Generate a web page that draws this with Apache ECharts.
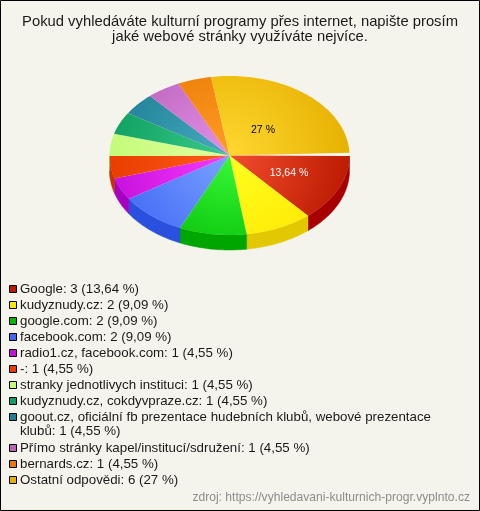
<!DOCTYPE html>
<html><head><meta charset="utf-8">
<style>html,body{margin:0;padding:0;background:#f5f4ec}#c{width:480px;height:511px}</style>
<script src="https://cdn.jsdelivr.net/npm/echarts@6/dist/echarts.min.js"></script>
</head><body><div id="c"></div>
<script>
const titleLines = ['Pokud vyhledáváte kulturní programy přes internet, napište prosím', 'jaké webové stránky využíváte nejvíce.'];
const source = 'zdroj: https://vyhledavani-kulturnich-progr.vyplnto.cz';
const categories = ['Google','kudyznudy.cz','google.com','facebook.com','radio1.cz, facebook.com','-','stranky jednotlivych instituci','kudyznudy.cz, cokdyvpraze.cz','goout.cz, oficiální fb prezentace hudebních klubů, webové prezentace\nklubů','Přímo stránky kapel/institucí/sdružení','bernards.cz','Ostatní odpovědi'];
const counts = [3,2,2,2,1,1,1,1,1,1,1,6];
const percents = [13.64,9.09,9.09,9.09,4.55,4.55,4.55,4.55,4.55,4.55,4.55,27];
const percentLabels = ['13,64','9,09','9,09','9,09','4,55','4,55','4,55','4,55','4,55','4,55','4,55','27'];
const rimColors = ['#bb1a00','#ffe600','#00b800','#3f68f5','#c60fdb','#e83c00','#c2fb78','#0f9f62','#1f7f96','#bb62bb','#e87800','#e6b000'];
const hubColors = ['#f24c2e','#ffff20','#38f838','#7aa2ff','#f83cff','#ff5c18','#e2ffa0','#38cc88','#48acc0','#e490e8','#ff9c28','#ffd830'];
const sideColors = ['#a80000','#e2c800','#00a600','#2a50e0','#a800c0','#c83000','#a0d860','#008850','#106878','#985098','#c06000','#c09000'];

const CX = 229.5, CY = 155.5, RX = 120, RY = 79.5, DEPTH = 15, HUB_R = 125, DEG_PER_PCT = 3.585, START_DEG = 0.3;
const pt = (deg, dy) => { const a = deg*Math.PI/180; return [CX+RX*Math.cos(a), CY+(dy||0)+RY*Math.sin(a)]; };
const arc = (a0,a1,dy) => { const out=[]; const n=Math.max(2,Math.ceil((a1-a0)/1.5)); for(let k=0;k<=n;k++) out.push(pt(a0+(a1-a0)*k/n,dy)); return out; };

let acc = 0;
const spans = percents.map(p => { const s=[acc, acc+p]; acc+=p; return s; });

function renderSlice(params, api) {
  const i = params.dataIndex;
  const a0 = START_DEG+api.value(0)*DEG_PER_PCT, a1 = START_DEG+api.value(1)*DEG_PER_PCT;
  const children = [];
  const s0 = Math.max(a0,0), s1 = Math.min(a1,180);
  if (s1 > s0) {
    const top = arc(s0,s1,0), bot = arc(s0,s1,DEPTH).reverse();
    children.push({type:'polygon',shape:{points:top.concat(bot)},style:{fill:sideColors[i],stroke:sideColors[i],lineWidth:0.5}});
  }
  children.push({type:'polygon',shape:{points:[[CX,CY]].concat(arc(a0,a1,0))},style:{
    fill:{type:'radial',global:true,x:CX,y:CY,r:HUB_R,colorStops:[{offset:0,color:hubColors[i]},{offset:1,color:rimColors[i]}]},
    stroke:null}});
  return {type:'group',children};
}

// Legend rows (squares aligned to the first line of each entry)
const legendGraphics = [];
let rowY = 289;
categories.forEach((c,i) => {
  legendGraphics.push({type:'rect',shape:{x:9.5,y:Math.round(rowY)-3.5,width:7,height:7},style:{fill:rimColors[i],stroke:'#000',lineWidth:1}});
  const lines = (c + ': ' + counts[i] + ' (' + percentLabels[i] + ' %)').split('\n');
  lines.forEach((t,k) => legendGraphics.push({type:'text',x:20,y:rowY+k*14.4,style:{text:t,font:'13.3px "Liberation Sans"',textAlign:'left',textVerticalAlign:'middle',fill:'#1a1a1a'}}));
  rowY += 16.05 + (lines.length-1)*14.4;
});

const chart = echarts.init(document.getElementById('c'),null,{renderer:'canvas'});
chart.setOption({
  animation:false,
  backgroundColor:'#f5f4ec',
  series:[{
    type:'custom', name:'Odpovědi', coordinateSystem:'none', silent:true, animation:false, z:2,
    data:spans.map(s=>[s[0],s[1]]),
    renderItem:renderSlice
  }],
  graphic:[
    {type:'rect',z:0,shape:{x:0.5,y:0.5,width:479,height:510},style:{fill:'none',stroke:'#000',lineWidth:1}},
    {type:'ellipse',z:0,shape:{cx:CX,cy:CY,rx:RX,ry:RY},style:{fill:'#fdf6ef'}},
    {type:'text',x:240,y:14,style:{text:titleLines.join('\n'),font:'14.8px "Liberation Sans"',lineHeight:15,textAlign:'center',fill:'#1a1a1a'}},
    {type:'text',x:263,y:130,z:10,style:{text:percentLabels[11]+' %',font:'10.5px "Liberation Sans"',textAlign:'center',textVerticalAlign:'middle',fill:'#000'}},
    {type:'text',x:289,y:173,z:10,style:{text:percentLabels[0]+' %',font:'10.5px "Liberation Sans"',textAlign:'center',textVerticalAlign:'middle',fill:'#fff'}},
    {type:'text',x:470,y:498,style:{text:source,font:'12.1px "Liberation Sans"',textAlign:'right',textVerticalAlign:'middle',fill:'#8c8c8c'}}
  ].concat(legendGraphics)
});
</script></body></html>
